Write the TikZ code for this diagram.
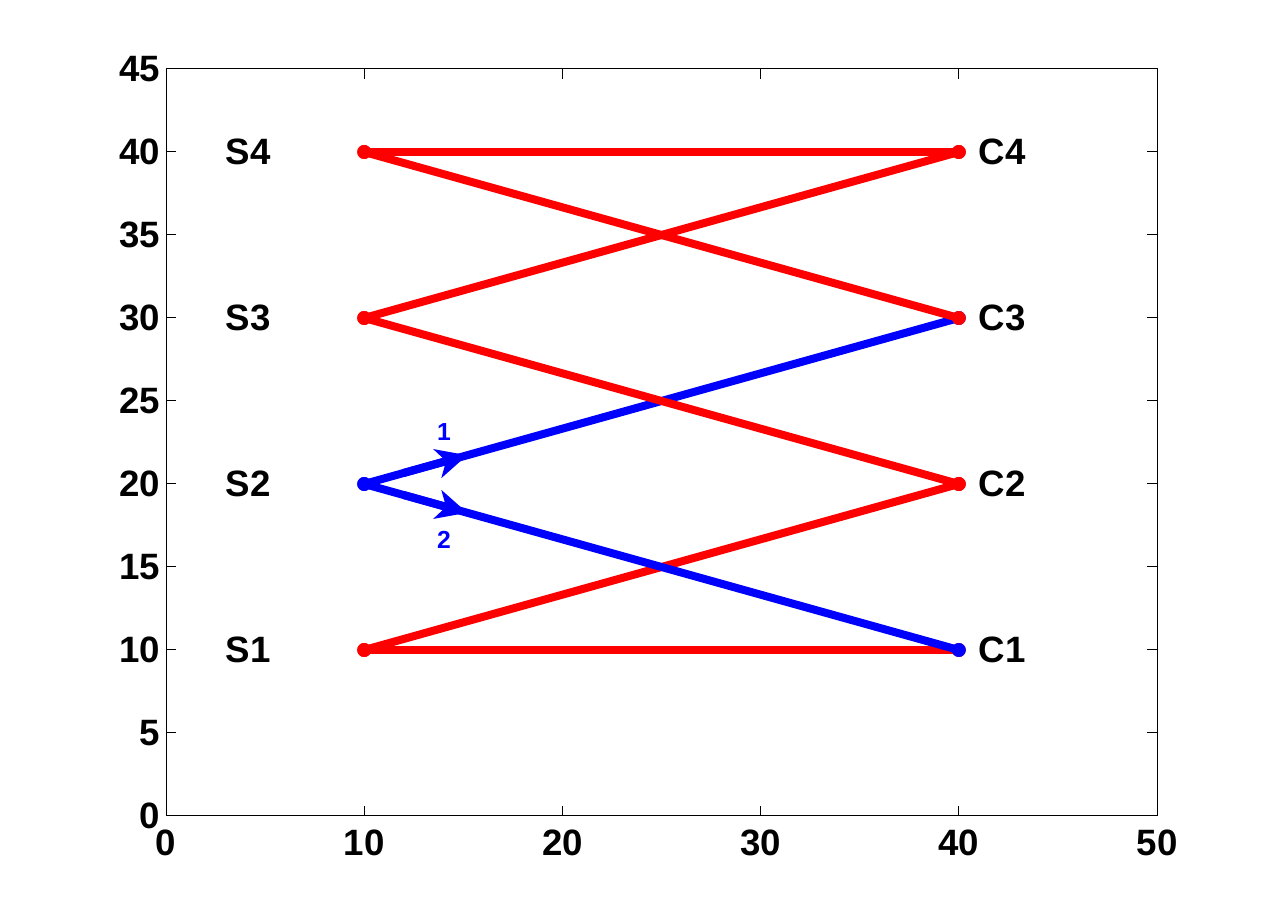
\documentclass[tikz,border=0pt]{standalone}
\usepackage{fontspec}
\setmainfont{Liberation Sans}
\usetikzlibrary{arrows.meta}
\begin{document}
\begin{tikzpicture}[x=0.75pt,y=0.75pt,
  lbl/.style={font=\fontsize{27.5}{30}\selectfont\bfseries, inner sep=0},
  small/.style={font=\fontsize{18.5}{20}\selectfont\bfseries, inner sep=0, text=blue},
  redl/.style={red, line width=6pt},
  bluel/.style={blue, line width=6pt},
  reddot/.style={red},
  bluedot/.style={blue},
  ax/.style={black, line width=0.75pt},
  arr/.style={blue, line width=6pt, -{Stealth[length=23pt,width=22pt,inset=6.5pt]}},
  ]
\useasboundingbox (0,0) rectangle (1277,917);
\fill[white] (0,0) rectangle (1277,917);
\begin{scope}[shift={(166,101)}, x=14.865pt, y=12.45pt]
  % axes frame and ticks
  \draw[ax] (0,0) rectangle (50,45);
  \foreach \x in {0,10,...,50} {
    \draw[ax] (\x,0) -- ++(0pt,7.5pt);
    \draw[ax] (\x,45) -- ++(0pt,-7.5pt);
    \node[lbl, anchor=base] (xl\x) at (\x,-2.35) {\x};
  }
  \foreach \y in {0,5,...,45} {
    \draw[ax] (0,\y) -- ++(7.5pt,0pt);
    \draw[ax] (50,\y) -- ++(-7.5pt,0pt);
    \node[lbl, anchor=base east, yshift=-9.6pt] (yl\y) at (-0.3,\y) {\y};
  }
  % points
  \coordinate (S1) at (10,10);
  \coordinate (S2) at (10,20);
  \coordinate (S3) at (10,30);
  \coordinate (S4) at (10,40);
  \coordinate (C1) at (40,10);
  \coordinate (C2) at (40,20);
  \coordinate (C3) at (40,30);
  \coordinate (C4) at (40,40);
  % connections in plotting order
  \draw[redl] (S1) -- (C1); \fill[reddot] (S1) circle (5.25pt); \fill[reddot] (C1) circle (5.25pt);
  \draw[redl] (S1) -- (C2); \fill[reddot] (S1) circle (5.25pt); \fill[reddot] (C2) circle (5.25pt);
  \draw[bluel] (S2) -- (C1); \fill[bluedot] (S2) circle (5.25pt); \fill[bluedot] (C1) circle (5.25pt);
  \draw[bluel] (S2) -- (C3); \fill[bluedot] (S2) circle (5.25pt); \fill[bluedot] (C3) circle (5.25pt);
  \draw[redl] (S3) -- (C2); \fill[reddot] (S3) circle (5.25pt); \fill[reddot] (C2) circle (5.25pt);
  \draw[redl] (S3) -- (C4); \fill[reddot] (S3) circle (5.25pt); \fill[reddot] (C4) circle (5.25pt);
  \draw[redl] (S4) -- (C3); \fill[reddot] (S4) circle (5.25pt); \fill[reddot] (C3) circle (5.25pt);
  \draw[redl] (S4) -- (C4); \fill[reddot] (S4) circle (5.25pt); \fill[reddot] (C4) circle (5.25pt);
  % direction arrows
  \coordinate (a1s) at (12,20.667);
  \coordinate (a1e) at (15.2,21.733);
  \coordinate (a2s) at (12,19.333);
  \coordinate (a2e) at (15.2,18.267);
  \draw[arr] (a1s) -- (a1e);
  \draw[arr] (a2s) -- (a2e);
  \node[small, anchor=base west] (n1) at (13.67,22.65) {1};
  \node[small, anchor=base west] (n2) at (13.67,16.14) {2};
  % labels
  \foreach \i in {1,2,3,4} {
    \node[lbl, anchor=base west, yshift=-9.6pt] (tS\i) at (3,\i*10) {S\i};
    \node[lbl, anchor=base west, yshift=-9.6pt] (tC\i) at (41,\i*10) {C\i};
  }
\end{scope}
\end{tikzpicture}
\end{document}
